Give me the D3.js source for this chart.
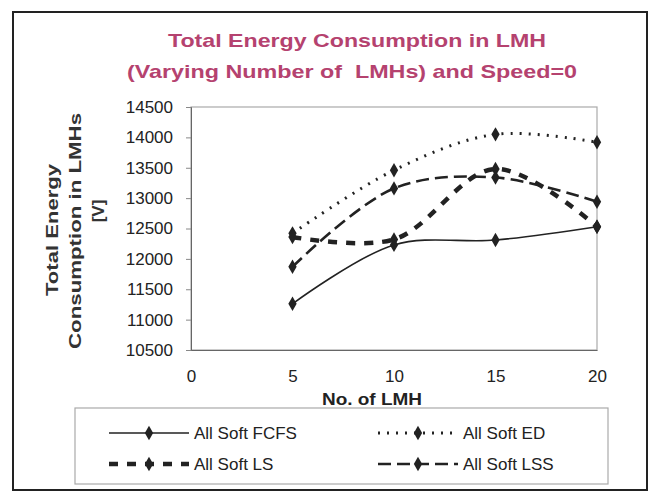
<!DOCTYPE html>
<html>
  <head>
    <meta charset="utf-8">
    <script src="https://cdn.jsdelivr.net/npm/d3@7"></script>
    <title>Total Energy Consumption in LMH</title>
    <style>
      body { margin: 0; background: #fff; }
      text { font-family: "Liberation Sans", Arial, sans-serif; white-space: pre; }
    </style>
  </head>
  <body>
  <script>
    // values
    var lmh = [5, 10, 15, 20];
    var fcfs = [11260, 12230, 12310, 12530];
    var ed = [12420, 13460, 14050, 13920];
    var ls = [12360, 12320, 13480, 12530];
    var lss = [11870, 13160, 13340, 12940];
    var yTicks = [10500, 11000, 11500, 12000, 12500, 13000, 13500, 14000, 14500];
    var xTicks = [0, 5, 10, 15, 20];
    var names = ["All Soft FCFS", "All Soft ED", "All Soft LS", "All Soft LSS"];

    var series = [
      {name: names[0], values: fcfs, dash: null, width: 1.6},
      {name: names[1], values: ed, dash: "2,7", width: 3},
      {name: names[2], values: ls, dash: "9,9", width: 4.5},
      {name: names[3], values: lss, dash: "13,6", width: 2.6}
    ];

    var width = 649, height = 498;
    var svg = d3.select("body").append("svg")
      .attr("width", width)
      .attr("height", height);

    // outer frame of the chart
    svg.append("rect")
      .attr("x", 13).attr("y", 12)
      .attr("width", 634).attr("height", 478)
      .attr("fill", "#fff")
      .attr("stroke", "#222")
      .attr("stroke-width", 2);

    // title, the scan is wide so the text is stretched
    var title = svg.append("text")
      .attr("text-anchor", "middle")
      .attr("fill", "#b5426f")
      .attr("font-weight", "bold")
      .attr("font-size", 19);
    title.append("tspan").attr("x", 357).attr("y", 47)
      .attr("textLength", 378).attr("lengthAdjust", "spacingAndGlyphs")
      .text("Total Energy Consumption in LMH");
    title.append("tspan").attr("x", 352).attr("y", 78)
      .attr("textLength", 450).attr("lengthAdjust", "spacingAndGlyphs")
      .text("(Varying Number of  LMHs) and Speed=0");

    var x = d3.scaleLinear().domain([0, 20]).range([191, 597]);
    var y = d3.scaleLinear().domain([10500, 14500]).range([350, 107]);

    // plot area border
    svg.append("rect")
      .attr("x", x(0)).attr("y", y(14500))
      .attr("width", x(20) - x(0)).attr("height", y(10500) - y(14500))
      .attr("fill", "none")
      .attr("stroke", "#aaa")
      .attr("stroke-width", 1.2);

    var yAxis = svg.append("g")
      .attr("transform", "translate(" + x(0) + ",0)")
      .call(d3.axisLeft(y).tickValues(yTicks).tickSize(5).tickPadding(13).tickFormat(d3.format("d")));
    yAxis.select(".domain").attr("stroke", "#666");
    yAxis.selectAll(".tick line").attr("stroke", "#888");
    yAxis.selectAll("text").attr("font-size", 17).attr("fill", "#222")
      .attr("font-family", "'Liberation Sans', Arial, sans-serif");

    var xAxis = svg.append("g")
      .attr("transform", "translate(0," + y(10500) + ")")
      .call(d3.axisBottom(x).tickValues(xTicks).tickSize(0).tickPadding(20));
    xAxis.select(".domain").attr("stroke", "#666");
    xAxis.selectAll("text").attr("font-size", 17).attr("fill", "#222")
      .attr("font-family", "'Liberation Sans', Arial, sans-serif");

    // axis titles
    var yTitle = [
      {t: "Total Energy", b: 58, c: 230, len: 132},
      {t: "Consumption in LMHs", b: 81, c: 231, len: 236},
      {t: "[V]", b: 104, c: 211, len: null}
    ];
    yTitle.forEach(function(l) {
      var t = svg.append("text")
        .attr("transform", "translate(" + l.b + "," + l.c + ") rotate(-90)")
        .attr("text-anchor", "middle")
        .attr("font-weight", "bold")
        .attr("font-size", 17)
        .attr("fill", "#333")
        .text(l.t);
      if (l.len) t.attr("textLength", l.len).attr("lengthAdjust", "spacingAndGlyphs");
    });

    svg.append("text")
      .attr("x", 372).attr("y", 405)
      .attr("text-anchor", "middle")
      .attr("font-weight", "bold")
      .attr("font-size", 16)
      .attr("fill", "#222")
      .attr("textLength", 100)
      .attr("lengthAdjust", "spacingAndGlyphs")
      .text("No. of LMH");

    var line = d3.line()
      .x(function(d, i) { return x(lmh[i]); })
      .y(function(d) { return y(d); })
      .curve(d3.curveCatmullRom.alpha(0.5));

    var diamond = d3.symbol().type(d3.symbolDiamond).size(60);

    series.forEach(function(s) {
      svg.append("path")
        .attr("d", line(s.values))
        .attr("fill", "none")
        .attr("stroke", "#222")
        .attr("stroke-width", s.width)
        .attr("stroke-dasharray", s.dash);
      svg.selectAll(null)
        .data(s.values)
        .enter().append("path")
        .attr("d", diamond)
        .attr("transform", function(d, i) { return "translate(" + x(lmh[i]) + "," + y(d) + ")"; })
        .attr("fill", "#222");
    });

    // legend
    svg.append("rect")
      .attr("x", 75).attr("y", 408)
      .attr("width", 533).attr("height", 76)
      .attr("fill", "none")
      .attr("stroke", "#aaa")
      .attr("stroke-width", 1.2);

    var legendPos = [[109, 433], [378, 433], [109, 464], [378, 464]];
    series.forEach(function(s, i) {
      var p = legendPos[i];
      var g = svg.append("g").attr("transform", "translate(" + p[0] + "," + p[1] + ")");
      g.append("line")
        .attr("x1", 0).attr("x2", 80)
        .attr("y1", 0).attr("y2", 0)
        .attr("stroke", "#222")
        .attr("stroke-width", s.width)
        .attr("stroke-dasharray", s.dash);
      g.append("path")
        .attr("d", diamond)
        .attr("transform", "translate(40,0)")
        .attr("fill", "#222");
      g.append("text")
        .attr("x", 85).attr("y", 6)
        .attr("font-size", 17)
        .attr("fill", "#222")
        .text(s.name);
    });
  </script>
</body>
</html>
